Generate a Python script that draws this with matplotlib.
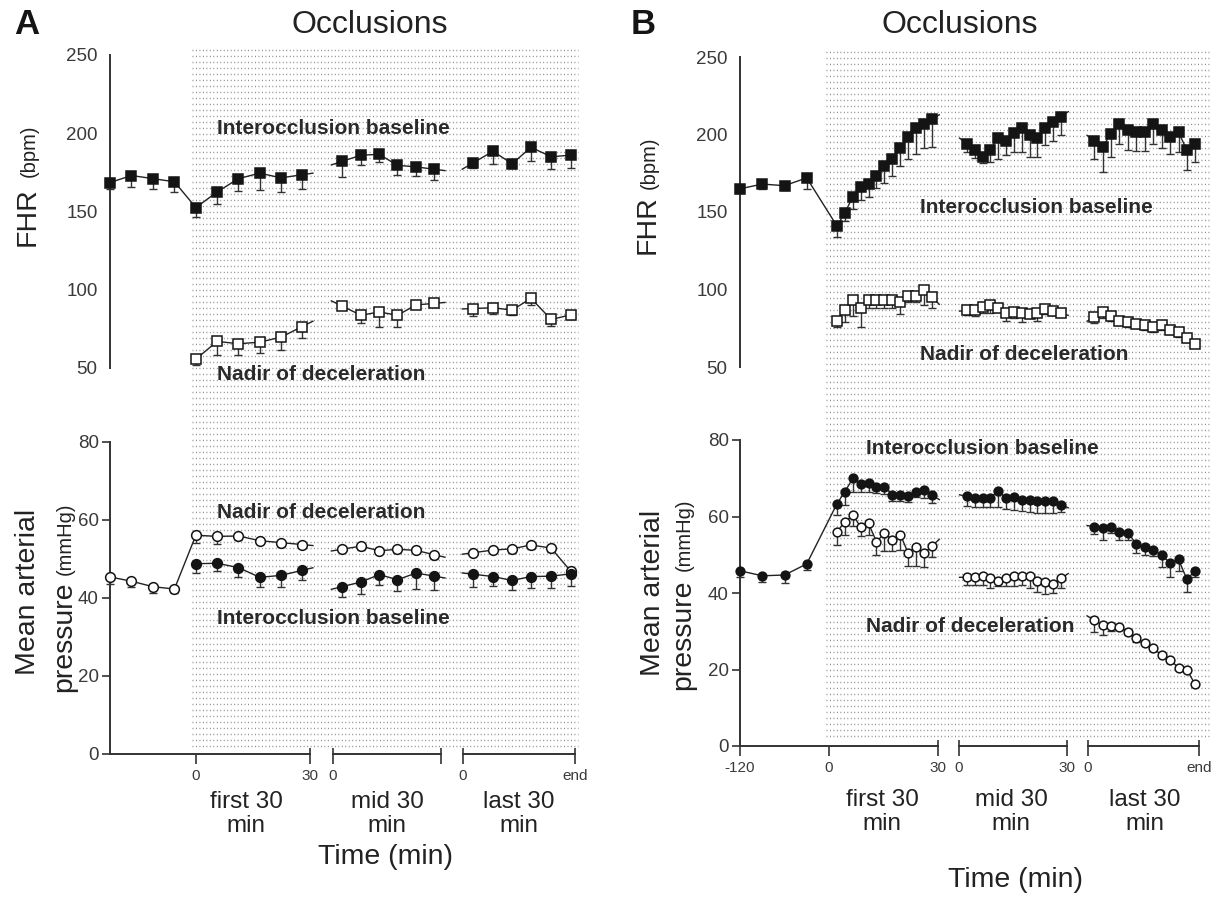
import numpy as np
import matplotlib.pyplot as plt

plt.rcParams['font.family'] = ['Liberation Sans', 'DejaVu Sans']

W, H = 1219, 899

# ---------------- data (mean, SEM below the mean) ----------------
base_t = [-120, -90, -60, -30]

# panel A, one point per block
a_first_t = [0.0, 5.6, 11.2, 16.8, 22.4, 28.0]
a_mid_t = [2.4, 7.4, 12.2, 17.0, 21.9, 26.7]
a_last_t = [2.6, 7.9, 12.9, 17.9, 23.2, 28.4]

a_fhr_base = [168.5, 173, 171, 169]
a_fhr_base_err = [4, 7.5, 6.5, 6.5]
a_fhr_ib = [[152.5, 162.5, 171, 174.5, 171.5, 173.5],
            [182, 186, 186.5, 179.5, 178.5, 177],
            [181, 188.5, 180.5, 191, 185, 186]]
a_fhr_ib_err = [[6, 8, 8, 11, 9, 9],
                [10, 6, 5, 6, 6, 7],
                [3, 8, 3, 9, 8, 8]]
a_fhr_nd = [[55.7, 67, 65.5, 66.5, 69.7, 76.5],
            [89.6, 83.7, 85.8, 83.7, 90.3, 91.3],
            [88, 88.5, 87, 94.5, 81, 84]]
a_fhr_nd_err = [[3.5, 8.5, 7, 7, 8.5, 7.5],
                [1, 5, 9.5, 7.5, 0.5, 0.5],
                [5, 4, 3, 4, 4, 3]]

a_map_base = [45.4, 44.3, 42.9, 42.3]
a_map_base_err = [1.9, 1.6, 1.7, 1.1]
a_map_nd = [[56.1, 55.8, 55.9, 54.7, 54.2, 53.7],
            [52.5, 53.3, 52.1, 52.5, 52.2, 51.1],
            [51.6, 52.3, 52.6, 53.6, 52.8, 46.8]]
a_map_nd_err = [[2, 2, 1, 0.5, 1.2, 1],
                [0.5, 1, 0.5, 1, 0.5, 1],
                [0.5, 0.8, 1, 1, 1, 1]]
a_map_ib = [[48.8, 48.9, 47.8, 45.3, 45.8, 47.1],
            [42.9, 44.1, 46.0, 44.7, 46.4, 45.6],
            [46.1, 45.5, 44.5, 45.5, 45.6, 46.2]]
a_map_ib_err = [[2.4, 2, 2.5, 2.6, 3, 2.5],
                [2.6, 3.1, 2.7, 3, 4, 3.5],
                [3.3, 2.5, 2.5, 3, 3, 3]]

# panel B, one point per occlusion
b_first_t = [2.2, 4.4, 6.6, 8.7, 10.9, 13.1, 15.3, 17.5, 19.7, 21.8, 24.0, 26.2, 28.4]
b_mid_t = [2.2, 4.4, 6.6, 8.7, 10.9, 13.1, 15.3, 17.5, 19.7, 21.8, 24.0, 26.2, 28.4]
b_last_t = [1.7, 4.0, 6.3, 8.6, 11.0, 13.3, 15.6, 17.9, 20.3, 22.6, 24.9, 27.2, 29.5]

b_fhr_base = [165, 168, 167, 172]
b_fhr_base_err = [3, 3, 3, 7]
b_fhr_ib = [[141, 149.5, 160, 166, 168, 173.5, 179.5, 184.5, 191.5, 198.5, 204.5, 207, 210],
            [194, 190, 185.5, 190, 198, 196, 201, 204, 199.5, 197.5, 204, 208, 211.5],
            [196, 192, 200.5, 207, 203, 201.5, 201.5, 207, 203, 198.5, 201.5, 190, 194]]
b_fhr_ib_err = [[7, 5, 8, 8, 8, 8, 11, 11, 12, 14, 17, 16, 18],
                [5, 5, 4, 8, 14, 9, 12, 15, 14, 12, 11, 12, 12],
                [12, 16, 15, 13, 13, 12, 12, 13, 12, 11, 13, 13, 12]]
b_fhr_nd = [[80, 87, 93, 88, 93, 93, 93, 93, 92, 96, 96, 100, 95],
            [86.5, 87, 88.7, 89.8, 88.3, 84.8, 85.5, 84.8, 84.4, 84.8, 87.4, 86.4, 84.8],
            [82.3, 85.5, 82.7, 80, 79, 78, 77, 75.5, 77, 74, 72.5, 69, 65]]
b_fhr_nd_err = [[4, 8, 10, 12, 5, 5, 5, 5, 8, 4, 4, 10, 7],
                [3, 4, 4, 5, 3, 5, 4, 6, 3, 5, 3, 3, 2],
                [4, 4, 3, 3, 3, 3, 3, 3, 3, 3, 3, 3, 2]]

b_map_base = [45.8, 44.5, 44.7, 47.6]
b_map_base_err = [1.7, 1.7, 2, 1.6]
b_map_ib = [[63.3, 66.5, 70, 68.5, 68.8, 67.6, 67.8, 65.6, 65.6, 65.4, 66.5, 66.9, 65.6],
            [65.3, 64.9, 64.9, 64.9, 66.6, 64.9, 65.1, 64.4, 64.2, 64, 64, 64, 63.1],
            [57.3, 56.9, 57.2, 55.9, 55.8, 52.7, 51.9, 51.2, 49.9, 47.8, 48.8, 43.6, 45.8]]
b_map_ib_err = [[3, 3.5, 3.5, 2, 2.5, 1.5, 2, 1.5, 1.5, 1.5, 1.5, 2, 2],
                [2.5, 2.5, 2.5, 2.5, 4, 3, 3.5, 3, 3, 3, 3, 3, 2],
                [2, 3, 1.5, 2, 2, 2.3, 2, 1.5, 3, 3.5, 3, 3.3, 1.5]]
b_map_nd = [[56, 58.6, 60.4, 57.3, 58.2, 53.4, 55.6, 53.9, 55.2, 50.5, 52.1, 50.4, 52.3],
            [44.1, 44.1, 44.5, 43.9, 43.2, 43.8, 44.4, 44.5, 44.4, 43.2, 42.8, 42.4, 43.8],
            [32.9, 31.6, 31.5, 31.2, 29.9, 28.2, 26.8, 25.5, 23.8, 22.5, 20.5, 19.9, 16.1]]
b_map_nd_err = [[3.5, 3.5, 3, 2.5, 3, 3.5, 4.5, 3, 4, 3.5, 5, 3.5, 3],
                [2, 2, 2.5, 2.5, 1.5, 2, 2.5, 2.5, 3, 3, 3, 2.5, 2.5],
                [3, 2.5, 1.5, 1, 1, 1, 0.5, 0.5, 0.5, 0.5, 0.5, 0.5, 0.5]]

# ---------------- layout ----------------
INK = '#141414'
GREY = '#3a3a3a'

fig = plt.figure(figsize=(W / 100, H / 100), dpi=100)


def ftext(x, y, s, **kw):
    fig.text(x / W, 1 - y / H, s, **kw)


def add_ax(x0, x1, ytop, ybot, u0, pxu, ylim):
    ax = fig.add_axes([x0 / W, 1 - ybot / H, (x1 - x0) / W, (ybot - ytop) / H])
    ax.set_xlim(u0, u0 + (x1 - x0) / pxu)
    ax.set_ylim(*ylim)
    ax.patch.set_visible(False)
    for s in ['top', 'right', 'bottom']:
        ax.spines[s].set_visible(False)
    ax.spines['left'].set_color('#333333')
    ax.spines['left'].set_linewidth(1.4)
    ax.tick_params(axis='y', labelsize=13.5, labelcolor=GREY, color='#333333')
    return ax


# stippled background marking the occlusion period
bg = fig.add_axes([0, 0, 1, 1])
bg.set_xlim(0, W)
bg.set_ylim(H, 0)
bg.axis('off')
for x0, x1, y0, y1 in [(192, 578, 50, 752), (826, 1210, 52, 742)]:
    rows = np.arange(y0, y1, 6.0)
    bg.hlines(rows, x0, x1, colors='#8a8a8a', linewidth=1.0,
              linestyles=[(0, (0.7, 1.8))])


def place(t, seg, lay):
    off, sc = lay[seg]
    return [off + sc * v for v in t]


def draw(ax, parts, filled, marker, ms, tail, cap):
    face = INK if filled else 'white'
    for x, y, e, lt, rt in parts:
        x = np.asarray(x, float)
        y = np.asarray(y, float)
        e = np.asarray(e, float)
        lx, ly = list(x), list(y)
        if lt:
            s = (y[1] - y[0]) / (x[1] - x[0])
            lx.insert(0, x[0] - tail)
            ly.insert(0, y[0] - s * tail)
        if rt:
            s = (y[-1] - y[-2]) / (x[-1] - x[-2])
            lx.append(x[-1] + tail)
            ly.append(y[-1] + s * tail)
        ax.plot(lx, ly, color='#222222', lw=1.0, zorder=2, clip_on=False)
        eb = ax.errorbar(x, y, yerr=[e, np.zeros(len(e))], fmt='none', ecolor='#333333',
                         elinewidth=1.0, capsize=cap, capthick=1.0, zorder=2.5)
        for art in list(eb.lines[1]) + list(eb.lines[2]):
            art.set_clip_on(False)
        ax.plot(x, y, ls='none', marker=marker, ms=ms, mfc=face, mec=INK, mew=1.1,
                zorder=3, clip_on=False)


def series(lay, base, base_e, segs, seg_e, times, join):
    parts = []
    xf = place(times[0], 'first', lay)
    if join:
        parts.append((place(base_t, 'base', lay) + xf, list(base) + list(segs[0]),
                      list(base_e) + list(seg_e[0]), False, True))
    else:
        parts.append((xf, segs[0], seg_e[0], False, True))
    parts.append((place(times[1], 'mid', lay), segs[1], seg_e[1], True, True))
    parts.append((place(times[2], 'last', lay), segs[2], seg_e[2], True, False))
    return parts


def time_axis(ax, segs, ticks, labels, up):
    ax.set_xticks(ticks)
    ax.set_xticklabels(labels)
    ax.tick_params(axis='x', length=7, width=1.2, color='#333333', pad=4,
                   labelsize=11, labelcolor=GREY)
    for a, b in segs:
        ax.plot([a, b], [0, 0], color='#333333', lw=1.4, clip_on=False, zorder=1.5)
    ax.vlines(up, 0, 1.6, color='#333333', lw=1.2, clip_on=False)


# ---------------- panel A ----------------
layA = {'base': (0, 0.1883), 'first': (0, 1), 'mid': (36.05, 1), 'last': (70.3, 1)}
tA = [a_first_t, a_mid_t, a_last_t]

axA1 = add_ax(110, 590, 55, 368, -22.6, 3.8, (50, 250))
axA1.set_yticks([50, 100, 150, 200, 250])
axA1.set_xticks([])
axA1.tick_params(axis='y', length=0, pad=9)
draw(axA1, series(layA, a_fhr_base, a_fhr_base_err, a_fhr_ib, a_fhr_ib_err, tA, True),
     True, 's', 7, 2.8, 3)
draw(axA1, series(layA, [], [], a_fhr_nd, a_fhr_nd_err, tA, False),
     False, 's', 7, 2.8, 3)

axA2 = add_ax(110, 590, 442, 754, -22.6, 3.8, (0, 80))
axA2.set_yticks([0, 20, 40, 60, 80])
axA2.tick_params(axis='y', length=6, width=1.2, pad=2)
draw(axA2, series(layA, a_map_base, a_map_base_err, a_map_nd, a_map_nd_err, tA, True),
     False, 'o', 7, 2.8, 3)
draw(axA2, series(layA, [], [], a_map_ib, a_map_ib_err, tA, False),
     True, 'o', 7, 2.8, 3)
time_axis(axA2, [(-22.6, 30), (36.05, 64.5), (70.3, 99.7)],
          [0, 30, 36.05, 64.5, 70.3, 99.7], ['0', '30', '0', '', '0', 'end'],
          [30, 36.05, 64.5, 70.3, 99.7])

# ---------------- panel B ----------------
layB = {'base': (0, 0.204), 'first': (0, 1), 'mid': (35.8, 0.99), 'last': (71.4, 1)}
tB = [b_first_t, b_mid_t, b_last_t]

axB1 = add_ax(740, 1215, 57, 367, -24.5, 3.63, (50, 250))
axB1.set_yticks([50, 100, 150, 200, 250])
axB1.set_xticks([])
axB1.tick_params(axis='y', length=0, pad=9)
draw(axB1, series(layB, b_fhr_base, b_fhr_base_err, b_fhr_ib, b_fhr_ib_err, tB, True),
     True, 's', 6.5, 2.0, 2.6)
draw(axB1, series(layB, [], [], b_fhr_nd, b_fhr_nd_err, tB, False),
     False, 's', 6.5, 2.0, 2.6)

axB2 = add_ax(740, 1215, 440, 746, -24.5, 3.63, (0, 80))
axB2.set_yticks([0, 20, 40, 60, 80])
axB2.tick_params(axis='y', length=6, width=1.2, pad=2)
draw(axB2, series(layB, b_map_base, b_map_base_err, b_map_ib, b_map_ib_err, tB, True),
     True, 'o', 6.3, 2.0, 2.6)
draw(axB2, series(layB, [], [], b_map_nd, b_map_nd_err, tB, False),
     False, 'o', 6.3, 2.0, 2.6)
time_axis(axB2, [(-24.5, 30), (35.8, 65.5), (71.4, 102.0)],
          [-24.5, 0, 30, 35.8, 65.5, 71.4, 102.0],
          ['-120', '0', '30', '0', '30', '0', 'end'],
          [30, 35.8, 65.5, 71.4, 102.0])

# ---------------- text ----------------
for x, s in [(27, 'A'), (643, 'B')]:
    ftext(x, 25, s, fontsize=25, fontweight='bold', ha='center', va='center', color=INK)
for x in [370, 960]:
    ftext(x, 25, 'Occlusions', fontsize=23, ha='center', va='center', color='#222222')

lab = dict(color='#222222', rotation=90, rotation_mode='anchor', ha='center', va='baseline')
ftext(35, 217, 'FHR', fontsize=20.5, **lab)
ftext(35, 151, '(bpm)', fontsize=14.5, **lab)
ftext(655, 225, 'FHR', fontsize=20.5, **lab)
ftext(655, 163, '(bpm)', fontsize=14.5, **lab)

ftext(35, 592, 'Mean arterial', fontsize=20.5, **lab)
ftext(71, 637, 'pressure', fontsize=20.5, **lab)
ftext(71, 539, '(mmHg)', fontsize=14.5, **lab)
ftext(660, 593, 'Mean arterial', fontsize=20.5, **lab)
ftext(690, 635, 'pressure', fontsize=20.5, **lab)
ftext(690, 535, '(mmHg)', fontsize=14.5, **lab)

note = dict(fontsize=15, fontweight='bold', color='#2a2a2a', ha='left', va='center')
ftext(217, 128, 'Interocclusion baseline', **note)
ftext(217, 374, 'Nadir of deceleration', **note)
ftext(217, 513, 'Nadir of deceleration', **note)
ftext(217, 618, 'Interocclusion baseline', **note)
ftext(920, 208, 'Interocclusion baseline', **note)
ftext(920, 355, 'Nadir of deceleration', **note)
ftext(866, 448, 'Interocclusion baseline', **note)
ftext(866, 626, 'Nadir of deceleration', **note)

blk = dict(fontsize=17.5, ha='center', va='center', linespacing=1.15, color='#222222')
for x, s in [(246, 'first 30\nmin'), (387, 'mid 30\nmin'), (519, 'last 30\nmin')]:
    ftext(x, 814, s, **blk)
for x, s in [(882, 'first 30\nmin'), (1011, 'mid 30\nmin'), (1145, 'last 30\nmin')]:
    ftext(x, 812, s, **blk)
ftext(385, 857, 'Time (min)', fontsize=20.5, ha='center', va='center', color='#222222')
ftext(1015, 880, 'Time (min)', fontsize=20.5, ha='center', va='center', color='#222222')

fig.savefig('out.png', dpi=100)
